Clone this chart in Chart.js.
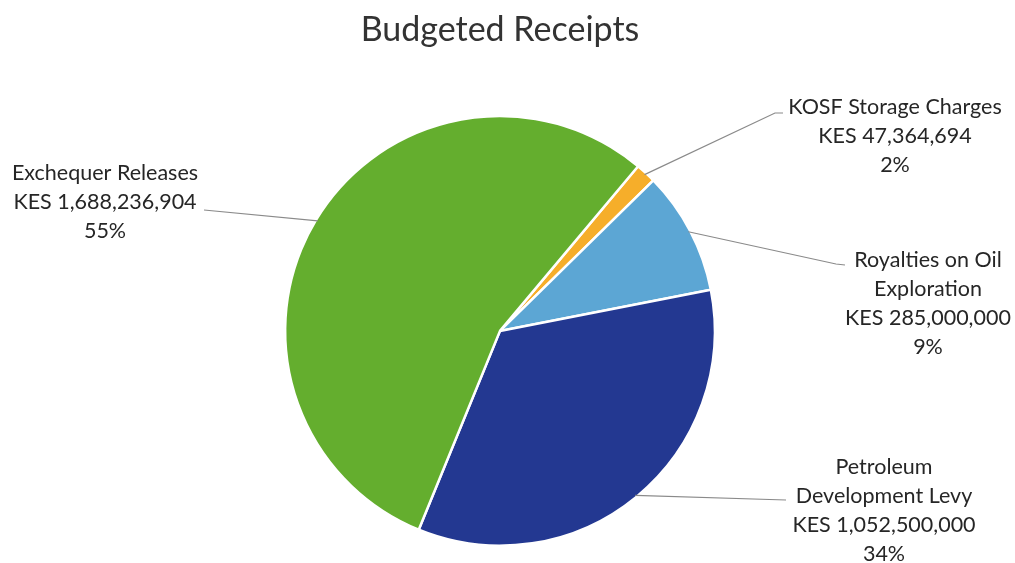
<!DOCTYPE html>
<html>
<head>
<meta charset="utf-8">
<script src="https://cdn.jsdelivr.net/npm/chart.js@4.4.1/dist/chart.umd.min.js"></script>
<style>
  html, body { margin: 0; padding: 0; background: #fff; }
  #wrap { width: 1015px; height: 563px; position: relative; }
</style>
</head>
<body>
<div id="wrap"><canvas id="receiptsPie"></canvas></div>
<script>
// Budgeted receipts, KES
const categories = ['KOSF Storage Charges', 'Royalties on Oil Exploration', 'Petroleum Development Levy', 'Exchequer Releases'];
const amounts = [47364694, 285000000, 1052500000, 1688236904];
const sliceColors = ['#F6AE2A', '#5CA6D4', '#233891', '#64AE2E'];

// label text lines (name split as wrapped in the chart)
const labelLines = [
    ['KOSF Storage Charges'],
    ['Royalties on Oil', 'Exploration'],
    ['Petroleum', 'Development Levy'],
    ['Exchequer Releases']
];

// where each label block sits and where its leader line ends
const labelPlacement = [
    { x: 895, y: 107, lineTo: [[775, 113], [783, 113]] },
    { x: 928, y: 260, lineTo: [[836, 264], [845, 265]] },
    { x: 884, y: 467, lineTo: [[786, 500]] },
    { x: 105, y: 173, lineTo: [[204, 210]] }
];

const total = amounts.reduce((a, b) => a + b, 0);
const fmt = v => 'KES ' + v.toLocaleString('en-US');

// draws leader lines + the three-line labels outside each slice
const outsideLabels = {
    id: 'outsideLabels',
    afterDatasetsDraw(chart) {
        const ctx = chart.ctx;
        const meta = chart.getDatasetMeta(0);
        ctx.save();
        meta.data.forEach((arc, i) => {
            const p = arc.getProps(['x', 'y', 'startAngle', 'endAngle', 'outerRadius'], true);
            const mid = (p.startAngle + p.endAngle) / 2;
            const sx = p.x + Math.cos(mid) * (p.outerRadius - 2);
            const sy = p.y + Math.sin(mid) * (p.outerRadius - 2);
            const place = labelPlacement[i];

            ctx.strokeStyle = '#8a8a8a';
            ctx.lineWidth = 1.2;
            ctx.beginPath();
            ctx.moveTo(sx, sy);
            place.lineTo.forEach(pt => ctx.lineTo(pt[0], pt[1]));
            ctx.stroke();

            const lines = labelLines[i].concat([fmt(amounts[i]), Math.round(amounts[i] / total * 100) + '%']);
            ctx.fillStyle = '#262626';
            ctx.font = '21.5px Lato, "Open Sans", sans-serif';
            ctx.textAlign = 'center';
            ctx.textBaseline = 'middle';
            lines.forEach((t, k) => ctx.fillText(t, place.x, place.y + k * 29));
        });
        ctx.restore();
    }
};

const ctx = document.getElementById('receiptsPie').getContext('2d');
new Chart(ctx, {
    type: 'pie',
    data: {
        labels: categories,
        datasets: [{
            data: amounts,
            backgroundColor: sliceColors,
            borderColor: '#ffffff',
            borderWidth: 2.5
        }]
    },
    options: {
        responsive: true,
        maintainAspectRatio: false,
        animation: false,
        rotation: 40,
        layout: { padding: { top: 0, bottom: 16, left: 100, right: 115 } },
        plugins: {
            legend: { display: false },
            tooltip: { enabled: false },
            title: {
                display: true,
                text: 'Budgeted Receipts',
                color: '#333333',
                font: { family: 'Lato, "Open Sans", sans-serif', size: 34, weight: 'normal', lineHeight: 1.2 },
                padding: { top: 10, bottom: 64 }
            }
        }
    },
    plugins: [outsideLabels]
});
</script>
</body>
</html>
